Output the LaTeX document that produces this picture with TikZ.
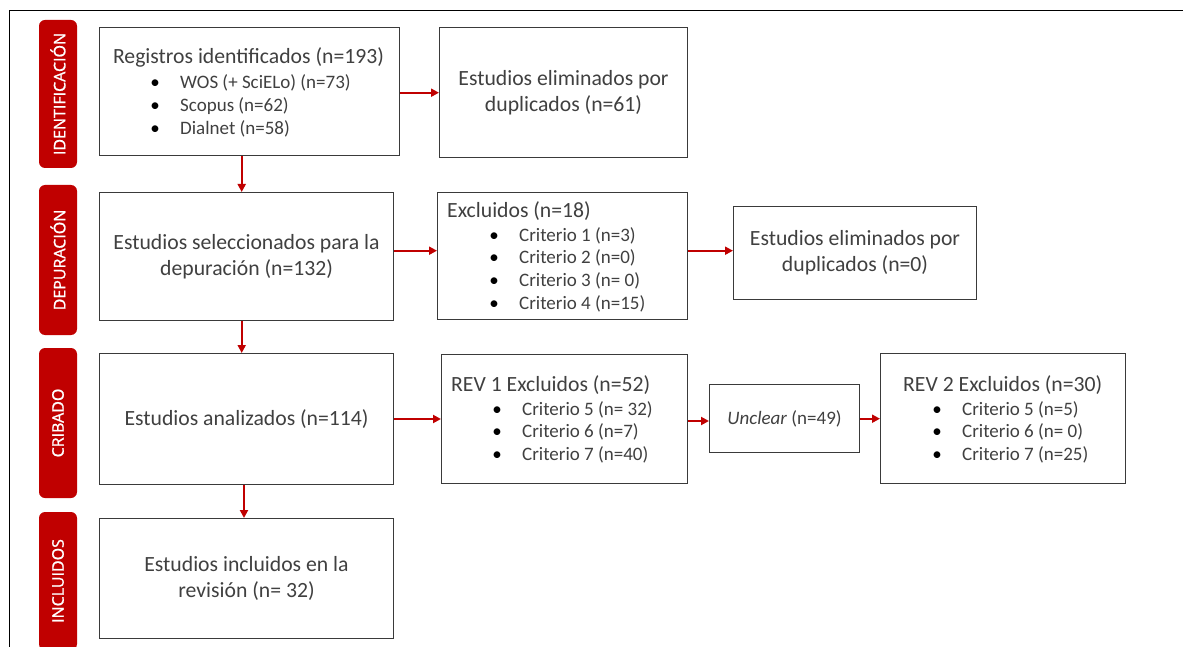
\documentclass[tikz,border=0pt]{standalone}
\usepackage{fontspec}
\setmainfont{Carlito}
\newfontfamily\labfont[FakeBold=1.2]{Open Sans}
\usetikzlibrary{arrows.meta}
\definecolor{dred}{HTML}{C00000}
\definecolor{txt}{HTML}{404040}
\definecolor{brd}{HTML}{3A3A3A}
\newcommand\fmain{\fontsize{21.7}{26.2}\selectfont}
\newcommand\fsub{\fontsize{19}{22.7}\selectfont}
\newcommand\blt{\makebox[10pt][c]{\textcolor{black}{•}}\hspace{20pt}}
\begin{document}
\begin{tikzpicture}[x=1pt,y=-1pt,
  box/.style={draw=brd, line width=1.1pt, inner sep=0pt, anchor=north west,
    align=center, text=txt, font=\fmain},
  lab/.style={fill=dred, rounded corners=6pt, text=white, inner sep=0pt,
    font=\labfont\fontsize{16}{19}\selectfont, rotate=90,
    minimum height=38pt},
  ttl/.style={anchor=base, inner sep=0pt, text=txt, font=\fmain},
  ttlw/.style={anchor=base west, inner sep=0pt, text=txt, font=\fmain},
  lst/.style={anchor=base west, inner sep=0pt, text=txt, font=\fsub},
  arr/.style={draw=dred, line width=2.2pt, -{Triangle[length=8pt,width=8pt]}}
]
\useasboundingbox (0,0) rectangle (1183,647);
\fill[white] (0,0) rectangle (1183,647);
\draw[line width=1.3pt] (9.5,647) -- (9.5,10.5) -- (1183,10.5);

\begin{scope}
\clip (0,0) rectangle (1183,647);
\node[lab, minimum width=148pt] (l1) at (58,94) {IDENTIFICACIÓN};
\node[lab, minimum width=150pt] (l2) at (58,260) {DEPURACIÓN};
\node[lab, minimum width=150pt] (l3) at (58,423) {CRIBADO};
\node[lab, minimum width=138pt] (l4) at (58,581) {INCLUIDOS};
\end{scope}

% boxes
\node[box, minimum width=300pt, minimum height=128pt] (b1) at (99,27) {};
\node[box, minimum width=248pt, minimum height=130pt] (b2) at (439,27) {Estudios eliminados por\\duplicados (n=61)};
\node[box, minimum width=294pt, minimum height=128pt] (b3) at (99,192) {Estudios seleccionados para la\\depuración (n=132)};
\node[box, minimum width=250pt, minimum height=127pt] (b4) at (437,192) {};
\node[box, minimum width=243pt, minimum height=93pt] (b5) at (733,206) {Estudios eliminados por\\duplicados (n=0)};
\node[box, minimum width=294pt, minimum height=131pt] (b6) at (99,353) {Estudios analizados (n=114)};
\node[box, minimum width=246pt, minimum height=129pt] (b7) at (441,354) {};
\node[box, minimum width=150pt, minimum height=68pt, font=\fsub] (b8) at (709,384) {\textit{Unclear} (n=49)};
\node[box, minimum width=245pt, minimum height=130pt] (b9) at (880,353) {};
\node[box, minimum width=294pt, minimum height=120pt] (b10) at (99,518) {Estudios incluidos en la\\revisión (n=~32)};

% texts of list boxes
\node[ttl] (b1t) at (248.5,64) {Registros identificados (n=193)};
\node[lst] (b1l) at (150,89) {\begin{tabular}[t]{@{}l@{}}\blt WOS (+ SciELo) (n=73)\\ \blt Scopus (n=62)\\ \blt Dialnet (n=58)\end{tabular}};

\node[ttlw] (b4t) at (447,218) {Excluidos (n=18)};
\node[lst] (b4l) at (489,241) {\begin{tabular}[t]{@{}l@{}}\blt Criterio 1 (n=3)\\ \blt Criterio 2 (n=0)\\ \blt Criterio 3 (n=~0)\\ \blt Criterio 4 (n=15)\end{tabular}};

\node[ttlw] (b7t) at (451,391) {REV 1 Excluidos (n=52)};
\node[lst] (b7l) at (492,415) {\begin{tabular}[t]{@{}l@{}}\blt Criterio 5 (n=~32)\\ \blt Criterio 6 (n=7)\\ \blt Criterio 7 (n=40)\end{tabular}};

\node[ttlw] (b9t) at (903,391) {REV 2 Excluidos (n=30)};
\node[lst] (b9l) at (932,415) {\begin{tabular}[t]{@{}l@{}}\blt Criterio 5 (n=5)\\ \blt Criterio 6 (n=~0)\\ \blt Criterio 7 (n=25)\end{tabular}};

% connector guides
\coordinate (v1) at (241.7,0);
\coordinate (v2) at (241.7,0);
\coordinate (v3) at (244,0);
\coordinate (h1) at (0,92.7);
\coordinate (h2) at (0,250.7);
\coordinate (h3) at (0,419);
\coordinate (h4) at (0,421);
\coordinate (h5) at (0,418.7);

\draw[arr] (b1.south -| v1) -- (b3.north -| v1);
\draw[arr] (b3.south -| v2) -- (b6.north -| v2);
\draw[arr] (b6.south -| v3) -- (b10.north -| v3);
\draw[arr] (b1.east |- h1) -- (b2.west |- h1);
\draw[arr] (b3.east |- h2) -- (b4.west |- h2);
\draw[arr] (b4.east |- h2) -- (b5.west |- h2);
\draw[arr] (b6.east |- h3) -- (b7.west |- h3);
\draw[arr] (b7.east |- h4) -- (b8.west |- h4);
\draw[arr] (b8.east |- h5) -- (b9.west |- h5);
\end{tikzpicture}
\end{document}
